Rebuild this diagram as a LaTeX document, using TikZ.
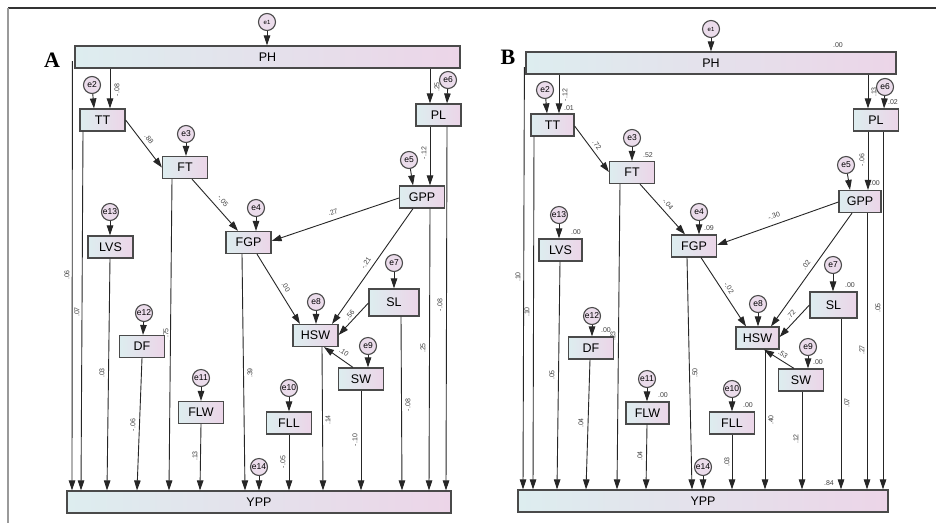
\documentclass[tikz,border=0pt]{standalone}
\usepackage{fontspec}
\setmainfont{Liberation Sans}
\newfontfamily\panelfont{Liberation Serif}
\usetikzlibrary{arrows.meta,calc}

\definecolor{boxline}{HTML}{4A4A4A}
\definecolor{gl}{HTML}{DDEDEF}
\definecolor{gr}{HTML}{ECD5E8}
\definecolor{errfill}{HTML}{EBDCEB}
\definecolor{framegray}{HTML}{9A9A9A}

\tikzset{
  var/.style={draw=boxline, line width=1.2pt, left color=gl, right color=gr,
    minimum width=45pt, minimum height=22pt, inner sep=0pt,
    font=\fontsize{12.5}{14}\selectfont},
  err/.style={circle, draw=boxline, line width=1.1pt, fill=errfill,
    minimum size=17pt, inner sep=0pt, font=\fontsize{8.5}{9}\selectfont},
  arr/.style={-{Triangle[length=10pt,width=6.5pt]}, line width=0.9pt, draw=black!85},
  coef/.style={inner sep=0pt, text=black!75, font=\fontsize{7}{8}\selectfont},
  panel/.style={inner sep=0pt, font=\panelfont\bfseries\fontsize{22}{24}\selectfont},
}

\begin{document}
\begin{tikzpicture}[x=1pt, y=-1pt]
\useasboundingbox (0,0) rectangle (936,523);
\fill[white] (0,0) rectangle (936,523);

% outer frame
\draw[line width=1.4pt, black!80] (8,8) -- (936,8);
\draw[line width=2pt, framegray] (8,8) -- (8,523);

% ================= panel A =================
\node[panel] (labA) at (52,60) {A};

\node[var, minimum width=385pt] (PHa) at (267.5,57) {PH};
\node[var, minimum width=384pt] (YPPa) at (259,502) {YPP};
\node[var] (TTa)  at (102.5,120) {TT};
\node[var] (FTa)  at (185,167.5) {FT};
\node[var] (PLa)  at (438.5,115) {PL};
\node[var] (GPPa) at (422,197) {GPP};
\node[var] (FGPa) at (248.5,242.5) {FGP};
\node[var] (HSWa) at (315.5,335.5) {HSW};
\node[var, minimum width=50pt, minimum height=27pt] (SLa) at (394,302.5) {SL};
\node[var] (SWa)  at (361,379) {SW};
\node[var] (LVSa) at (110.5,247) {LVS};
\node[var] (DFa)  at (142,346.5) {DF};
\node[var] (FLWa) at (201,412.5) {FLW};
\node[var] (FLLa) at (289,423) {FLL};

\node[err, font=\fontsize{6}{7}\selectfont] (e1a) at (267,22) {e1};
\node[err] (e2a)  at (92,85) {e2};
\node[err] (e3a)  at (186,134) {e3};
\node[err] (e4a)  at (256,208) {e4};
\node[err] (e5a)  at (409,160) {e5};
\node[err] (e6a)  at (448,80) {e6};
\node[err] (e7a)  at (394,263) {e7};
\node[err] (e8a)  at (316,302) {e8};
\node[err] (e9a)  at (368,346) {e9};
\node[err] (e10a) at (289,388) {e10};
\node[err] (e11a) at (201,378) {e11};
\node[err] (e12a) at (144,313) {e12};
\node[err] (e13a) at (110,212) {e13};
\node[err] (e14a) at (259,467) {e14};

% error terms
\draw[arr] (e1a) -- (PHa.north -| e1a);
\draw[arr] (e2a) -- (TTa.north -| 94,0);
\draw[arr] (e3a) -- (FTa.north -| e3a);
\draw[arr] (e4a) -- (FGPa.north -| e4a);
\draw[arr] (e5a) -- (GPPa.north -| 413,0);
\draw[arr] (e6a) -- (PLa.north -| 447,0);
\draw[arr] (e7a) -- (SLa.north -| e7a);
\draw[arr] (e8a) -- (HSWa.north -| e8a);
\draw[arr] (e9a) -- (SWa.north -| e9a);
\draw[arr] (e10a) -- (FLLa.north -| e10a);
\draw[arr] (e11a) -- (FLWa.north -| e11a);
\draw[arr] (e12a) -- (DFa.north -| 143,0);
\draw[arr] (e13a) -- (LVSa.north -| e13a);
\draw[arr] (e14a) -- (YPPa.north -| e14a);

% structural paths
\draw[arr] (PHa.south -| 110,0) -- (TTa.north -| 110,0);
\draw[arr] (TTa.east) -- (FTa.west);
\draw[arr] (PHa.south -| 430,0) -- (PLa.north -| 430,0);
\draw[arr] (PLa.south -| 430,0) -- (GPPa.north -| 430,0);
\draw[arr] (FTa.south -| 192,0) -- (FGPa.north -| 238,0);
\draw[arr] (GPPa.west |- 0,198) -- (FGPa.east |- 0,241);
\draw[arr] (FGPa.south -| 257,0) -- (HSWa.north -| 300,0);
\draw[arr] (GPPa.south -| 413,0) -- (HSWa.north -| 332,0);
\draw[arr] (SLa.west |- 0,303) -- (HSWa.east |- 0,335);
\draw[arr] (SWa.north -| 353,0) -- (HSWa.south -| 324,0);

% paths into YPP
\draw[arr] ($(PHa.west)+(-2,4)$) -- (YPPa.north -| 72,0);
\draw[arr] (TTa.south -| 83,0) -- (YPPa.north -| 81,0);
\draw[arr] (LVSa.south -| 110,0) -- (YPPa.north -| 107,0);
\draw[arr] (DFa.south -| 142,0) -- (YPPa.north -| 137,0);
\draw[arr] (FTa.south -| 172,0) -- (YPPa.north -| 169,0);
\draw[arr] (FLWa.south -| 201,0) -- (YPPa.north -| 200,0);
\draw[arr] (FGPa.south -| 242,0) -- (YPPa.north -| 245,0);
\draw[arr] (FLLa.south -| 289,0) -- (YPPa.north -| 289,0);
\draw[arr] (HSWa.south -| 322,0) -- (YPPa.north -| 323,0);
\draw[arr] (SWa.south -| 361,0) -- (YPPa.north -| 361,0);
\draw[arr] (SLa.south -| 401,0) -- (YPPa.north -| 402,0);
\draw[arr] (GPPa.south -| 430,0) -- (YPPa.north -| 429,0);
\draw[arr] (PLa.south -| 447,0) -- (YPPa.north -| 446,0);

% coefficients
\node[coef, rotate=90]  (ca1)  at (117,90)  {-.08};
\node[coef, rotate=-50] (ca2)  at (149,139) {.88};
\node[coef, rotate=90]  (ca3)  at (437,87)  {.25};
\node[coef, rotate=90]  (ca4)  at (424,153) {-.12};
\node[coef, rotate=-50] (ca5)  at (223,201) {-.05};
\node[coef, rotate=19]  (ca6)  at (333,212) {.27};
\node[coef, rotate=-59] (ca7)  at (286,287) {.00};
\node[coef, rotate=56]  (ca8)  at (366,263) {-.21};
\node[coef, rotate=47]  (ca9)  at (350,315) {.56};
\node[coef, rotate=-37] (ca10) at (344,352) {.10};
\node[coef, rotate=90]  (ca11) at (67,275)  {.06};
\node[coef, rotate=90]  (ca12) at (77,312)  {.07};
\node[coef, rotate=90]  (ca13) at (102,373) {.03};
\node[coef, rotate=90]  (ca14) at (133,425) {-.06};
\node[coef, rotate=90]  (ca15) at (166,333) {.75};
\node[coef, rotate=90]  (ca16) at (195,456) {.13};
\node[coef, rotate=90]  (ca17) at (250,373) {.39};
\node[coef, rotate=90]  (ca18) at (283,462) {-.05};
\node[coef, rotate=90]  (ca19) at (328,420) {.14};
\node[coef, rotate=90]  (ca20) at (355,440) {-.10};
\node[coef, rotate=90]  (ca21) at (408,405) {-.08};
\node[coef, rotate=90]  (ca22) at (423,348) {.25};
\node[coef, rotate=90]  (ca23) at (440,305) {-.08};

% ================= panel B =================
\node[panel] (labB) at (508,57) {B};

\node[var, minimum width=370pt] (PHb) at (711,63) {PH};
\node[var, minimum width=370pt] (YPPb) at (703,501) {YPP};
\node[var, minimum width=43pt] (TTb) at (552.5,125) {TT};
\node[var] (FTb)  at (632,172.5) {FT};
\node[var] (PLb)  at (876,120) {PL};
\node[var, minimum width=42pt] (GPPb) at (860,201.5) {GPP};
\node[var] (FGPb) at (694,246) {FGP};
\node[var, minimum width=43pt] (HSWb) at (757.5,338) {HSW};
\node[var, minimum width=47pt, minimum height=26pt] (SLb) at (833.5,305) {SL};
\node[var] (SWb)  at (801,380) {SW};
\node[var, minimum width=43pt] (LVSb) at (560.5,250) {LVS};
\node[var] (DFb)  at (591,348) {DF};
\node[var, minimum width=43pt] (FLWb) at (647.5,413) {FLW};
\node[var] (FLLb) at (732,423) {FLL};

\node[err, font=\fontsize{6}{7}\selectfont] (e1b) at (711,29) {e1};
\node[err] (e2b)  at (545,90) {e2};
\node[err] (e3b)  at (632,138) {e3};
\node[err] (e4b)  at (699,212) {e4};
\node[err] (e5b)  at (846,165) {e5};
\node[err] (e6b)  at (885,87) {e6};
\node[err] (e7b)  at (833,265) {e7};
\node[err] (e8b)  at (758,304) {e8};
\node[err] (e9b)  at (808,347) {e9};
\node[err] (e10b) at (732,389) {e10};
\node[err] (e11b) at (647,379) {e11};
\node[err] (e12b) at (592,316) {e12};
\node[err] (e13b) at (559,215) {e13};
\node[err] (e14b) at (703,467) {e14};

% error terms
\draw[arr] (e1b) -- (PHb.north -| e1b);
\draw[arr] (e2b) -- (TTb.north -| 547,0);
\draw[arr] (e3b) -- (FTb.north -| e3b);
\draw[arr] (e4b) -- (FGPb.north -| e4b);
\draw[arr] (e5b) -- (GPPb.north -| 850,0);
\draw[arr] (e6b) -- (PLb.north -| 884,0);
\draw[arr] (e7b) -- (SLb.north -| e7b);
\draw[arr] (e8b) -- (HSWb.north -| e8b);
\draw[arr] (e9b) -- (SWb.north -| e9b);
\draw[arr] (e10b) -- (FLLb.north -| e10b);
\draw[arr] (e11b) -- (FLWb.north -| e11b);
\draw[arr] (e12b) -- (DFb.north -| e12b);
\draw[arr] (e13b) -- (LVSb.north -| e13b);
\draw[arr] (e14b) -- (YPPb.north -| e14b);

% structural paths
\draw[arr] (PHb.south -| 559,0) -- (TTb.north -| 559,0);
\draw[arr] (TTb.east |- 0,126) -- (FTb.west |- 0,172);
\draw[arr] (PHb.south -| 868,0) -- (PLb.north -| 868,0);
\draw[arr] (PLb.south -| 868,0) -- (GPPb.north -| 868,0);
\draw[arr] (FTb.south -| 640,0) -- (FGPb.north -| 685,0);
\draw[arr] (GPPb.west |- 0,202) -- (FGPb.east |- 0,245);
\draw[arr] (FGPb.south -| 701,0) -- (HSWb.north -| 746,0);
\draw[arr] (GPPb.south -| 852,0) -- (HSWb.north -| 771,0);
\draw[arr] (SLb.west |- 0,305) -- (HSWb.east |- 0,337);
\draw[arr] (SWb.north -| 794,0) -- (HSWb.south -| 764,0);

% paths into YPP
\draw[arr] ($(PHb.west)+(-1,4)$) -- (YPPb.north -| 523,0);
\draw[arr] (TTb.south -| 534,0) -- (YPPb.north -| 533,0);
\draw[arr] (LVSb.south -| 560,0) -- (YPPb.north -| 557,0);
\draw[arr] (DFb.south -| 590,0) -- (YPPb.north -| 586,0);
\draw[arr] (FTb.south -| 620,0) -- (YPPb.north -| 617,0);
\draw[arr] (FLWb.south -| 647,0) -- (YPPb.north -| 646,0);
\draw[arr] (FGPb.south -| 687,0) -- (YPPb.north -| 692,0);
\draw[arr] (FLLb.south -| 732,0) -- (YPPb.north -| 732,0);
\draw[arr] (HSWb.south -| 765,0) -- (YPPb.north -| 765,0);
\draw[arr] (SWb.south -| 802,0) -- (YPPb.north -| 802,0);
\draw[arr] (SLb.south -| 841,0) -- (YPPb.north -| 841,0);
\draw[arr] (GPPb.south -| 867,0) -- (YPPb.north -| 867,0);
\draw[arr] (PLb.south -| 883,0) -- (YPPb.north -| 883,0);

% coefficients
\node[coef, rotate=90]  (cb1)  at (565,95)  {-.12};
\node[coef, rotate=-52] (cb2)  at (597,145) {.72};
\node[coef, rotate=90]  (cb3)  at (874,92)  {.13};
\node[coef, rotate=90]  (cb4)  at (862,160) {-.06};
\node[coef, rotate=-49] (cb5)  at (668,204) {-.04};
\node[coef, rotate=19]  (cb6)  at (774,216) {-.30};
\node[coef, rotate=-57] (cb7)  at (729,288) {-.02};
\node[coef, rotate=55]  (cb8)  at (806,265) {.02};
\node[coef, rotate=47]  (cb9)  at (791,315) {.72};
\node[coef, rotate=-37] (cb10) at (783,354) {.53};
\node[coef, rotate=90]  (cb11) at (518,277) {.10};
\node[coef, rotate=90]  (cb12) at (527,312) {.10};
\node[coef, rotate=90]  (cb13) at (552,375) {.05};
\node[coef, rotate=90]  (cb14) at (581,423) {.04};
\node[coef, rotate=90]  (cb15) at (613,336) {.23};
\node[coef, rotate=90]  (cb16) at (640,456) {.04};
\node[coef, rotate=90]  (cb17) at (695,373) {.50};
\node[coef, rotate=90]  (cb18) at (727,462) {.03};
\node[coef, rotate=90]  (cb19) at (771,420) {.40};
\node[coef, rotate=90]  (cb20) at (796,439) {.12};
\node[coef, rotate=90]  (cb21) at (847,403) {.07};
\node[coef, rotate=90]  (cb22) at (862,350) {.27};
\node[coef, rotate=90]  (cb23) at (878,308) {.05};

% squared multiple correlations
\node[coef] (rb1)  at (838,45)  {.00};
\node[coef] (rb2)  at (569,108) {.01};
\node[coef] (rb3)  at (648,155) {.52};
\node[coef] (rb4)  at (893,102) {.02};
\node[coef] (rb5)  at (875,183) {.00};
\node[coef] (rb6)  at (709,228) {.09};
\node[coef] (rb7)  at (850,285) {.00};
\node[coef] (rb8)  at (818,362) {.00};
\node[coef] (rb9)  at (576,232) {.00};
\node[coef] (rb10) at (606,330) {.00};
\node[coef] (rb11) at (663,395) {.00};
\node[coef] (rb12) at (748,405) {.00};
\node[coef] (rb13) at (829,483) {.84};
\end{tikzpicture}
\end{document}
